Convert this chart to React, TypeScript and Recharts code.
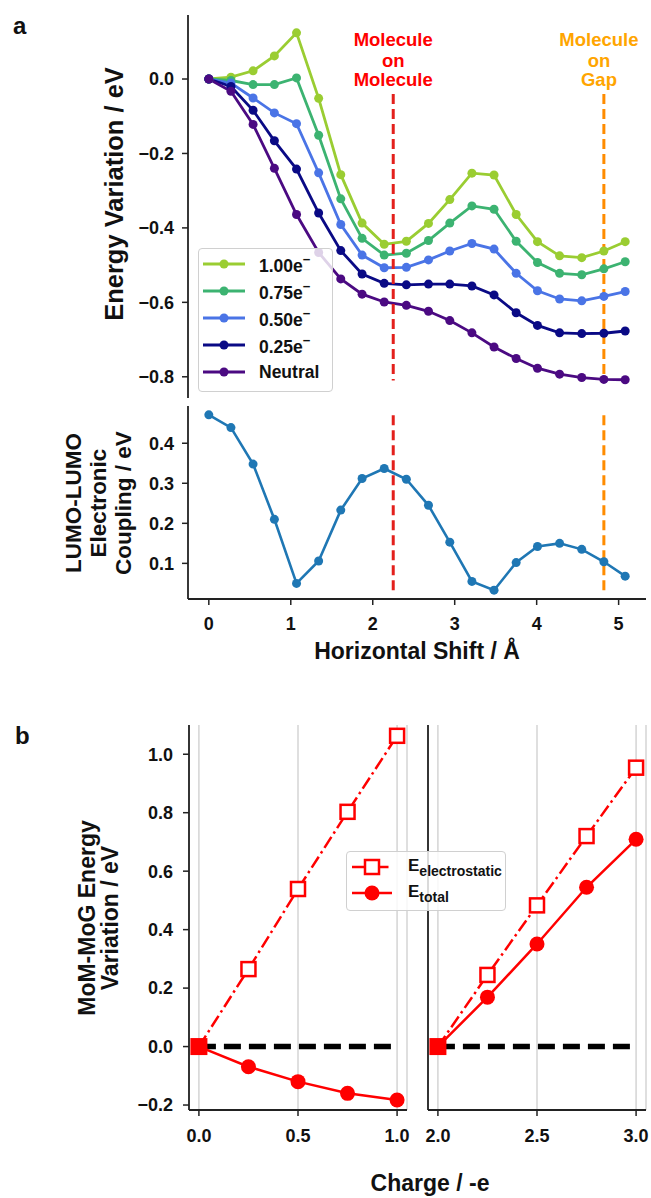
import React from 'react';
import {
  LineChart,
  Line,
  XAxis,
  YAxis,
  ReferenceLine,
  ReferenceDot,
  Legend,
  CartesianGrid,
} from 'recharts';

const FONT = '"Liberation Sans", Arial, Helvetica, sans-serif';

// ---------- panel a data ----------
const shift = [0, 0.27, 0.54, 0.8, 1.07, 1.34, 1.61, 1.87, 2.14, 2.41, 2.68, 2.94, 3.21, 3.48, 3.75, 4.01, 4.28, 4.55, 4.82, 5.08];
const e100 = [0, 0.005, 0.022, 0.062, 0.124, -0.052, -0.257, -0.387, -0.444, -0.436, -0.388, -0.324, -0.253, -0.258, -0.364, -0.437, -0.475, -0.48, -0.462, -0.437];
const e075 = [0, -0.004, -0.015, -0.015, 0.003, -0.151, -0.322, -0.428, -0.473, -0.468, -0.434, -0.387, -0.341, -0.35, -0.436, -0.493, -0.522, -0.526, -0.51, -0.491];
const e050 = [0, -0.011, -0.051, -0.091, -0.12, -0.252, -0.391, -0.473, -0.507, -0.506, -0.486, -0.462, -0.442, -0.457, -0.522, -0.569, -0.591, -0.596, -0.584, -0.571];
const e025 = [0, -0.02, -0.084, -0.166, -0.242, -0.36, -0.461, -0.524, -0.549, -0.553, -0.551, -0.551, -0.556, -0.58, -0.628, -0.662, -0.682, -0.684, -0.683, -0.677];
const neutral = [0, -0.033, -0.122, -0.24, -0.364, -0.466, -0.537, -0.578, -0.599, -0.608, -0.624, -0.649, -0.682, -0.72, -0.751, -0.777, -0.793, -0.802, -0.807, -0.808];
const coupling = [0.471, 0.439, 0.348, 0.21, 0.05, 0.106, 0.233, 0.312, 0.337, 0.31, 0.245, 0.153, 0.055, 0.033, 0.102, 0.142, 0.15, 0.135, 0.104, 0.068];

const seriesNames = ['1.00e', '0.75e', '0.50e', '0.25e', 'Neutral'];
const seriesKeys = ['e100', 'e075', 'e050', 'e025', 'neutral'];
const seriesColors = ['#9acd32', '#3cb371', '#4a74e6', '#0a0a85', '#4b0a82'];

const momX = 2.25; // "Molecule on Molecule"
const mogX = 4.82; // "Molecule on Gap"
const momText = ['Molecule', 'on', 'Molecule'];
const mogText = ['Molecule', 'on', 'Gap'];
const annotY = [0.107, 0.051, -0.002];
const mogTextX = 4.76;

const energyTicks = [-0.8, -0.6, -0.4, -0.2, 0];
const couplingTicks = [0.1, 0.2, 0.3, 0.4];
const shiftTicks = [0, 1, 2, 3, 4, 5];

// ---------- panel b data ----------
const chargeLeft = [0, 0.25, 0.5, 0.75, 1.0];
const elecLeft = [0, 0.265, 0.539, 0.803, 1.063];
const totalLeft = [0, -0.069, -0.12, -0.16, -0.183];
const chargeRight = [2.0, 2.25, 2.5, 2.75, 3.0];
const elecRight = [0, 0.245, 0.483, 0.72, 0.954];
const totalRight = [0, 0.169, 0.351, 0.545, 0.709];
const bYTicks = [-0.2, 0, 0.2, 0.4, 0.6, 0.8, 1.0];
const bLeftTicks = [0, 0.5, 1.0];
const bRightTicks = [2.0, 2.5, 3.0];

// ---------- derived tables ----------
const seriesValues = [e100, e075, e050, e025, neutral];
const rowsA = shift.map((x, i) => {
  const r: any = { x, coupling: coupling[i] };
  seriesKeys.forEach((k, j) => (r[k] = seriesValues[j][i]));
  return r;
});
const rowsBL = chargeLeft.map((x, i) => ({ x, elec: elecLeft[i], total: totalLeft[i] }));
const rowsBR = chargeRight.map((x, i) => ({ x, elec: elecRight[i], total: totalRight[i] }));

const X_DOMAIN: [number, number] = [-0.254, 5.334];

const fmt1 = (v: number) => (v < 0 ? '\u2212' : '') + Math.abs(v).toFixed(1);
const fmt0 = (v: number) => String(v);

const axisLineStyle = { stroke: '#222', strokeWidth: 1.8 };
const tickLineStyle = { stroke: '#222', strokeWidth: 1.5 };
const tickStyle = { fill: '#111', fontSize: 18, fontWeight: 700, fontFamily: FONT };

const RED = '#ff0000';

const renderSeriesLabel = (name: string) =>
  name === 'Neutral' ? (
    name
  ) : (
    <>
      {name}
      <sup style={{ fontSize: '0.75em', position: 'relative', top: '-0.1em' }}>{'\u2212'}</sup>
    </>
  );

const LegendA = (props: any) => {
  const payload: any[] = props.payload || [];
  const ordered = seriesKeys
    .map((k) => payload.find((p) => p.dataKey === k))
    .filter(Boolean);
  return (
    <div
      style={{
        background: 'rgba(255,255,255,0.82)',
        border: '1.5px solid #d0d0d0',
        borderRadius: 4,
        width: '100%',
        height: '100%',
        boxSizing: 'border-box',
        padding: '1px 0 0 4px',
      }}
    >
      {ordered.map((p: any) => (
        <div key={p.dataKey} style={{ display: 'flex', alignItems: 'center', height: 27 }}>
          <svg width={42} height={12} style={{ display: 'block' }}>
            <line x1={0} x2={42} y1={6} y2={6} stroke={p.color} strokeWidth={2.8} />
            <circle cx={21} cy={6} r={4.5} fill={p.color} />
          </svg>
          <span
            style={{
              marginLeft: 14,
              fontSize: 17.5,
              fontWeight: 700,
              fontFamily: FONT,
              color: '#111',
              lineHeight: '20px',
              whiteSpace: 'nowrap',
            }}
          >
            {renderSeriesLabel(p.value)}
          </span>
        </div>
      ))}
    </div>
  );
};

const LegendB = (props: any) => {
  const payload: any[] = props.payload || [];
  const ordered = ['elec', 'total'].map((k) => payload.find((p) => p.dataKey === k)).filter(Boolean);
  return (
    <div
      style={{
        background: 'rgba(255,255,255,0.82)',
        border: '1.5px solid #d0d0d0',
        borderRadius: 4,
        width: '100%',
        height: '100%',
        boxSizing: 'border-box',
        padding: '2px 0 0 5px',
      }}
    >
      {ordered.map((p: any) => (
        <div key={p.dataKey} style={{ display: 'flex', alignItems: 'center', height: 26 }}>
          <svg width={40} height={18} style={{ display: 'block' }}>
            {p.dataKey === 'elec' ? (
              <>
                <line x1={0} x2={40} y1={9} y2={9} stroke={RED} strokeWidth={2.5} strokeDasharray="13 4 2.5 4" />
                <rect x={13} y={2} width={14} height={14} fill="#fff" stroke={RED} strokeWidth={2.5} />
              </>
            ) : (
              <>
                <line x1={0} x2={40} y1={9} y2={9} stroke={RED} strokeWidth={2.5} />
                <circle cx={20} cy={9} r={7.5} fill={RED} />
              </>
            )}
          </svg>
          <span
            style={{
              marginLeft: 16,
              fontSize: 17,
              fontWeight: 700,
              fontFamily: FONT,
              color: '#111',
              whiteSpace: 'nowrap',
            }}
          >
            E
            <sub style={{ fontSize: 14, position: 'relative', top: '0.05em' }}>
              {p.dataKey === 'elec' ? 'electrostatic' : 'total'}
            </sub>
          </span>
        </div>
      ))}
    </div>
  );
};

const squareDot = (props: any) => {
  const { cx, cy, index } = props;
  if (cx == null || cy == null) return <g key={`sq-${index}`} />;
  const s = index === 0 ? 17 : 14;
  return (
    <rect
      key={`sq-${index}`}
      x={cx - s / 2}
      y={cy - s / 2}
      width={s}
      height={s}
      fill={index === 0 ? RED : '#fff'}
      stroke={RED}
      strokeWidth={index === 0 ? 0 : 2.5}
    />
  );
};

const annotLabel = (value: string, color: string) => ({
  value,
  position: 'center' as const,
  fill: color,
  fontSize: 18.5,
  fontWeight: 700,
  fontFamily: FONT,
});

const textStyle: React.CSSProperties = {
  position: 'absolute',
  fontFamily: FONT,
  fontWeight: 700,
  color: '#111',
  whiteSpace: 'nowrap',
};

const rotated = (cx: number, cy: number, fontSize: number, lh: number): React.CSSProperties => ({
  ...textStyle,
  left: cx,
  top: cy,
  fontSize,
  lineHeight: `${lh}px`,
  textAlign: 'center',
  transform: 'translate(-50%, -50%) rotate(-90deg)',
});

const BChart = ({
  rows,
  ticks,
  domain,
  showY,
  legend,
}: {
  rows: any[];
  ticks: number[];
  domain: [number, number];
  showY: boolean;
  legend: boolean;
}) => (
  <LineChart
    width={showY ? 410 : 251}
    height={460}
    data={rows}
    margin={{ top: 25, right: showY ? 3 : 5, bottom: 20, left: 0 }}
  >
    <CartesianGrid horizontal={false} stroke="#d4d4d4" strokeWidth={1.5} />
    <XAxis
      dataKey="x"
      type="number"
      domain={domain}
      allowDataOverflow
      ticks={ticks}
      interval={0}
      tickFormatter={(v: number) => v.toFixed(1)}
      height={30}
      tickSize={6}
      tickMargin={13}
      tick={tickStyle}
      tickLine={tickLineStyle}
      axisLine={axisLineStyle}
    />
    <XAxis
      xAxisId="top"
      orientation="top"
      type="number"
      domain={domain}
      allowDataOverflow
      tick={false}
      tickLine={false}
      height={0}
      axisLine={axisLineStyle}
    />
    <YAxis
      type="number"
      domain={[-0.217, 1.1]}
      allowDataOverflow
      ticks={bYTicks}
      interval={0}
      tickFormatter={fmt1}
      width={showY ? 189 : 28}
      tickSize={showY ? 6 : 0}
      tickMargin={10}
      tick={showY ? tickStyle : false}
      tickLine={showY ? tickLineStyle : false}
      axisLine={axisLineStyle}
    />
    <YAxis
      yAxisId="r"
      orientation="right"
      width={0}
      tick={false}
      tickLine={false}
      axisLine={axisLineStyle}
      domain={[0, 1]}
    />
    <ReferenceLine
      segment={[
        { x: rows[0].x, y: 0 },
        { x: rows[rows.length - 1].x, y: 0 },
      ]}
      stroke="#000"
      strokeWidth={5.5}
      strokeDasharray="17 8"
    />
    <Line
      dataKey="total"
      name="E_total"
      stroke={RED}
      strokeWidth={2.5}
      dot={{ r: 7.5, fill: RED, stroke: RED, strokeWidth: 0 }}
      activeDot={false}
      isAnimationActive={false}
    />
    <Line
      dataKey="elec"
      name="E_electrostatic"
      stroke={RED}
      strokeWidth={2.5}
      strokeDasharray="13 4 2.5 4"
      dot={squareDot}
      activeDot={false}
      isAnimationActive={false}
    />
    {legend && (
      <Legend
        layout="vertical"
        align="center"
        verticalAlign="middle"
        content={LegendB}
        wrapperStyle={{ left: 346, top: 151, width: 160, height: 60 }}
      />
    )}
  </LineChart>
);

export default function App() {
  return (
    <div
      style={{
        position: 'absolute',
        left: 0,
        top: 0,
        width: 651,
        height: 1198,
        overflow: 'hidden',
        background: '#fff',
        fontFamily: FONT,
      }}
    >
      {/* Panel a, top */}
      <div style={{ position: 'absolute', left: 0, top: 0, zIndex: 2 }}>
        <LineChart width={651} height={400} data={rowsA} margin={{ top: 15, right: 5, bottom: 2, left: 0 }}>
          <XAxis
            dataKey="x"
            type="number"
            domain={X_DOMAIN}
            allowDataOverflow
            tick={false}
            tickLine={false}
            height={0}
            axisLine={axisLineStyle}
          />
          <XAxis
            xAxisId="top"
            orientation="top"
            type="number"
            domain={X_DOMAIN}
            allowDataOverflow
            tick={false}
            tickLine={false}
            height={0}
            axisLine={axisLineStyle}
          />
          <YAxis
            type="number"
            domain={[-0.857, 0.172]}
            allowDataOverflow
            ticks={energyTicks}
            interval={0}
            tickFormatter={fmt1}
            width={188}
            tickSize={6}
            tickMargin={8}
            tick={tickStyle}
            tickLine={tickLineStyle}
            axisLine={axisLineStyle}
          />
          <YAxis
            yAxisId="r"
            orientation="right"
            width={0}
            tick={false}
            tickLine={false}
            axisLine={axisLineStyle}
            domain={[0, 1]}
          />
          {seriesKeys.map((k, j) => (
            <Line
              key={k}
              dataKey={k}
              name={seriesNames[j]}
              stroke={seriesColors[j]}
              strokeWidth={2.8}
              dot={{ r: 4.5, fill: seriesColors[j], stroke: seriesColors[j], strokeWidth: 0 }}
              activeDot={false}
              isAnimationActive={false}
            />
          ))}
          <ReferenceLine
            segment={[
              { x: momX, y: -0.04 },
              { x: momX, y: -0.81 },
            ]}
            stroke="#e3201c"
            strokeWidth={3}
            strokeDasharray="10 5"
          />
          <ReferenceLine
            segment={[
              { x: mogX, y: -0.04 },
              { x: mogX, y: -0.81 },
            ]}
            stroke="#ff8c00"
            strokeWidth={3}
            strokeDasharray="10 5"
          />
          {momText.map((t, i) => (
            <ReferenceDot
              key={`mom-${i}`}
              x={momX}
              y={annotY[i]}
              r={0}
              fill="none"
              stroke="none"
              label={annotLabel(t, RED)}
            />
          ))}
          {mogText.map((t, i) => (
            <ReferenceDot
              key={`mog-${i}`}
              x={mogTextX}
              y={annotY[i]}
              r={0}
              fill="none"
              stroke="none"
              label={annotLabel(t, '#ffa500')}
            />
          ))}
          <Legend
            layout="vertical"
            align="center"
            verticalAlign="middle"
            content={LegendA}
            wrapperStyle={{ left: 198, top: 248, width: 135, height: 144 }}
          />
        </LineChart>
      </div>

      {/* Panel a, bottom */}
      <div style={{ position: 'absolute', left: 0, top: 400, zIndex: 1 }}>
        <LineChart width={651} height={270} data={rowsA} margin={{ top: 6, right: 5, bottom: 41, left: 0 }}>
          <XAxis
            dataKey="x"
            type="number"
            domain={X_DOMAIN}
            allowDataOverflow
            ticks={shiftTicks}
            interval={0}
            tickFormatter={fmt0}
            height={30}
            tickSize={6}
            tickMargin={12}
            tick={tickStyle}
            tickLine={tickLineStyle}
            axisLine={axisLineStyle}
          />
          <XAxis
            xAxisId="top"
            orientation="top"
            type="number"
            domain={X_DOMAIN}
            allowDataOverflow
            tick={false}
            tickLine={false}
            height={0}
            axisLine={axisLineStyle}
          />
          <YAxis
            type="number"
            domain={[0.011, 0.493]}
            allowDataOverflow
            ticks={couplingTicks}
            interval={0}
            tickFormatter={fmt1}
            width={188}
            tickSize={6}
            tickMargin={8}
            tick={tickStyle}
            tickLine={tickLineStyle}
            axisLine={axisLineStyle}
          />
          <YAxis
            yAxisId="r"
            orientation="right"
            width={0}
            tick={false}
            tickLine={false}
            axisLine={axisLineStyle}
            domain={[0, 1]}
          />
          <Line
            dataKey="coupling"
            stroke="#1f77b4"
            strokeWidth={2.6}
            dot={{ r: 4.5, fill: '#1f77b4', stroke: '#1f77b4', strokeWidth: 0 }}
            activeDot={false}
            isAnimationActive={false}
          />
          <ReferenceLine
            segment={[
              { x: momX, y: 0.033 },
              { x: momX, y: 0.47 },
            ]}
            stroke="#e3201c"
            strokeWidth={3}
            strokeDasharray="10 5"
          />
          <ReferenceLine
            segment={[
              { x: mogX, y: 0.033 },
              { x: mogX, y: 0.47 },
            ]}
            stroke="#ff8c00"
            strokeWidth={3}
            strokeDasharray="10 5"
          />
        </LineChart>
      </div>

      {/* Panel b, left */}
      <div style={{ position: 'absolute', left: 0, top: 700, zIndex: 3 }}>
        <BChart rows={rowsBL} ticks={bLeftTicks} domain={[-0.05, 1.05]} showY legend />
      </div>
      {/* Panel b, right */}
      <div style={{ position: 'absolute', left: 400, top: 700, zIndex: 2 }}>
        <BChart rows={rowsBR} ticks={bRightTicks} domain={[1.95, 3.05]} showY={false} legend={false} />
      </div>

      {/* Titles and panel letters */}
      <div style={{ ...textStyle, left: 13, top: 14, fontSize: 24, lineHeight: '24px' }}>a</div>
      <div style={{ ...textStyle, left: 15, top: 724, fontSize: 24, lineHeight: '24px' }}>b</div>
      <div style={rotated(114, 194, 25.5, 26)}>Energy Variation / eV</div>
      <div style={rotated(98, 503, 22.5, 25)}>
        LUMO-LUMO
        <br />
        Electronic
        <br />
        Coupling / eV
      </div>
      <div
        style={{
          ...textStyle,
          left: 417,
          top: 640,
          fontSize: 23,
          lineHeight: '23px',
          transform: 'translateX(-50%)',
        }}
      >
        Horizontal Shift / Å
      </div>
      <div style={rotated(99, 918, 23, 23)}>
        MoM-MoG Energy
        <br />
        Variation / eV
      </div>
      <div
        style={{
          ...textStyle,
          left: 430,
          top: 1172,
          fontSize: 23,
          lineHeight: '23px',
          transform: 'translateX(-50%)',
        }}
      >
        Charge / -e
      </div>
    </div>
  );
}
